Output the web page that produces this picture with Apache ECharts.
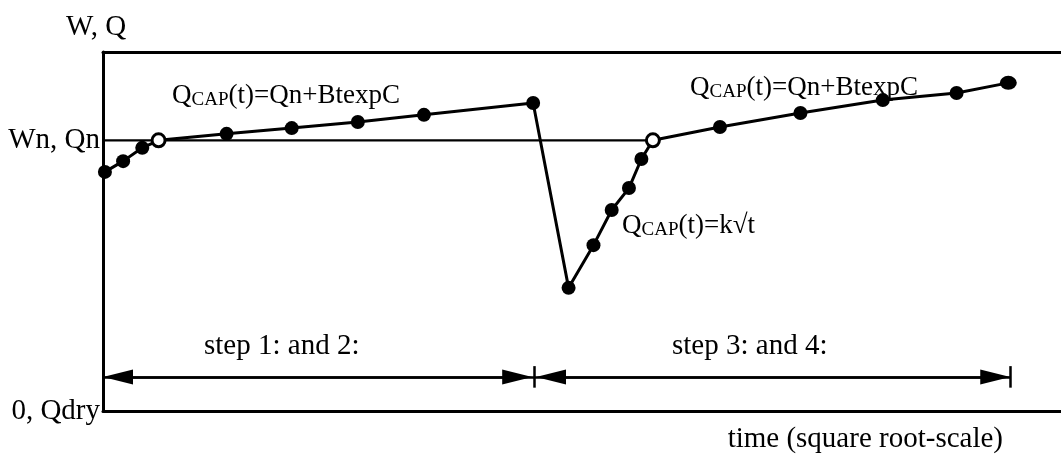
<!DOCTYPE html>
<html>
<head>
<meta charset="utf-8">
<script src="https://cdn.jsdelivr.net/npm/echarts@6/dist/echarts.min.js"></script>
<style>
    html, body { margin: 0; background: #fff; }
    #chart { width: 1061px; height: 457px; }
</style>
</head>
<body>
<div id="chart"></div>
<script>
    // time axis (sqrt scale) runs 0..100 across the box, W/Q runs 0 (Qdry) .. 100
    const wn = 75.4;
    const timeVals = [0.2, 2.1, 4.1, 5.8, 12.9, 19.7, 26.6, 33.5, 44.9, 48.6, 51.2, 53.1, 54.9, 56.2, 57.4, 64.4, 72.8, 81.4, 89.1, 94.5];
    const qVals = [66.6, 69.6, 73.3, 75.4, 77.2, 78.8, 80.5, 82.5, 85.8, 34.3, 46.2, 56.0, 62.1, 70.2, 75.4, 79.1, 83.0, 86.6, 88.6, 91.4];
    const openPoints = [3, 14]; // Qn reached -> hollow marker
    const yTickValues = [0, wn];
    const yTickLabels = ['0, Qdry', 'Wn, Qn'];
    const stepBounds = [0, 45, 94.7];
    const stepNames = ['step 1: and 2:', 'step 3: and 4:'];
    const arrowLevel = 9.5;
    const headLen = 30; // px, arrow head length

    const serif = '"Liberation Serif", "Times New Roman", serif';
    const black = '#000';

    const chart = echarts.init(document.getElementById('chart'));

    const points = timeVals.map((t, i) => {
        const item = { value: [t, qVals[i]] };
        if (openPoints.indexOf(i) >= 0) {
            item.symbolSize = 13;
            item.itemStyle = { color: '#fff', borderColor: black, borderWidth: 3 };
        }
        if (i === timeVals.length - 1) {
            item.symbolSize = [17, 14];
        }
        return item;
    });

    const rich = {
        q: { fontFamily: serif, fontSize: 27, color: black, verticalAlign: 'bottom' },
        s: { fontFamily: serif, fontSize: 19, color: black, verticalAlign: 'bottom' },
    };
    function formula(rest) {
        return '{q|Q}{s|CAP}{q|' + rest + '}';
    }
    function label(x, y, text, isRich) {
        return {
            type: 'text',
            x: x,
            y: y,
            silent: true,
            style: isRich
                ? { text: text, rich: rich, verticalAlign: 'middle' }
                : { text: text, fontFamily: serif, fontSize: 29, fill: black, verticalAlign: 'middle' },
        };
    }

    // the marker is centred on the end point, so pull the ends in by half a head
    const half = headLen / 2 / (1061 - 103) * 100;
    const arrowLine = { color: black, width: 2.5, type: 'solid' };
    const tick = (x) => [
        { coord: [x, arrowLevel + 3], symbol: 'none' },
        { coord: [x, arrowLevel - 3], symbol: 'none' },
    ];

    chart.setOption({
        animation: false,
        backgroundColor: '#fff',
        grid: { left: 103, right: 0, top: 52, bottom: 46 },
        xAxis: [
            {
                type: 'value',
                min: 0,
                max: 100,
                name: 'time (square root-scale)',
                nameLocation: 'end',
                nameGap: -58,
                nameTextStyle: {
                    fontFamily: serif, fontSize: 29, color: black,
                    align: 'right', verticalAlign: 'top', padding: [14, 0, 0, 0],
                },
                axisLine: { lineStyle: { color: black, width: 3 } },
                axisTick: { show: false },
                axisLabel: { show: false },
                splitLine: { show: false },
            },
            {
                type: 'value',
                position: 'top',
                min: 0,
                max: 100,
                axisLine: { lineStyle: { color: black, width: 3 } },
                axisTick: { show: false },
                axisLabel: { show: false },
                splitLine: { show: false },
            },
        ],
        yAxis: {
            type: 'value',
            min: 0,
            max: 100,
            name: 'W, Q',
            nameLocation: 'end',
            nameGap: 10,
            nameTextStyle: {
                fontFamily: serif, fontSize: 29, color: black,
                align: 'center', verticalAlign: 'bottom', padding: [0, 14, 0, 0],
            },
            axisLine: { show: true, lineStyle: { color: black, width: 3 } },
            axisTick: { show: false },
            splitLine: { show: false },
            axisLabel: {
                customValues: yTickValues,
                formatter: (v) => yTickLabels[yTickValues.indexOf(v)],
                fontFamily: serif,
                fontSize: 29,
                color: black,
                margin: 3,
                padding: [0, 0, 8, 0],
            },
        },
        series: [
            {
                name: 'Wn',
                type: 'line',
                data: [[0, wn], [timeVals[openPoints[1]], wn]],
                symbol: 'none',
                lineStyle: { color: black, width: 2.2 },
                silent: true,
            },
            {
                name: 'arrows',
                type: 'line',
                data: [],
                markLine: {
                    silent: true,
                    animation: false,
                    symbol: ['triangle', 'triangle'],
                    symbolSize: [15, headLen],
                    label: { show: false },
                    lineStyle: arrowLine,
                    emphasis: { disabled: true },
                    data: [
                        [{ coord: [stepBounds[0] + half, arrowLevel] }, { coord: [stepBounds[1] - 0.2 - half, arrowLevel] }],
                        [{ coord: [stepBounds[1] + 0.2 + half, arrowLevel] }, { coord: [stepBounds[2] - half, arrowLevel] }],
                        [{ coord: [stepBounds[0], arrowLevel], symbol: 'none' }, { coord: [stepBounds[2], arrowLevel], symbol: 'none' }],
                        tick(stepBounds[1]),
                        tick(stepBounds[2]),
                    ],
                },
            },
            {
                name: 'Q',
                type: 'line',
                data: points,
                symbol: 'circle',
                symbolSize: 14,
                itemStyle: { color: black },
                lineStyle: { color: black, width: 3 },
                silent: true,
            },
        ],
        graphic: [
            label(172, 96, formula('(t)=Qn+BtexpC'), true),
            label(690, 88, formula('(t)=Qn+BtexpC'), true),
            label(622, 226, formula('(t)=k√t'), true),
            label(204, 346, stepNames[0], false),
            label(672, 346, stepNames[1], false),
        ],
    });
</script>
</body>
</html>
